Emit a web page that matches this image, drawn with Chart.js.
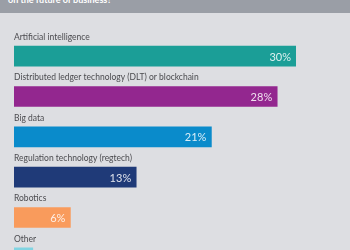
<!DOCTYPE html>
<html>
<head>
<meta charset="utf-8">
<script src="https://cdn.jsdelivr.net/npm/chart.js@4/dist/chart.umd.min.js"></script>
<style>
  body { margin: 0; background: #dddee2; overflow: hidden; width: 350px; height: 250px; position: relative; }
  #header { position: absolute; left: 0; top: 0; width: 350px; height: 13px; background: #9a9ea6; overflow: hidden; }
  #header span { position: absolute; left: 8px; top: -6px; color: #fff; font: bold 9px Lato, sans-serif; white-space: nowrap; }
  #wrap { position: absolute; left: 0; top: 0; width: 350px; height: 290px; }
</style>
</head>
<body>
<div id="wrap"><canvas id="myChart"></canvas></div>
<div id="header"><span>on the future of business?</span></div>
<script>
let categories = ['Artificial intelligence', 'Distributed ledger technology (DLT) or blockchain', 'Big data', 'Regulation technology (regtech)', 'Robotics', 'Other'];
let values = [30, 28, 21, 13, 6, 2]; // percent of respondents
let colors = ['#1b9e97', '#93278f', '#0a8bcb', '#1f3a78', '#f99b5c', '#80d4e2'];

// category names above bars, percentages inside the bar end
const barLabels = {
    id: 'barLabels',
    afterDatasetsDraw(chart) {
        const ctx = chart.ctx;
        const meta = chart.getDatasetMeta(0);
        ctx.save();
        meta.data.forEach((bar, i) => {
            ctx.fillStyle = '#4b4b4f';
            ctx.font = '8.5px Lato, sans-serif';
            ctx.textAlign = 'left';
            ctx.textBaseline = 'middle';
            ctx.fillText(categories[i], bar.base, bar.y - 19);

            ctx.fillStyle = 'rgba(255,255,255,0.85)';
            ctx.font = '11px Lato, sans-serif';
            ctx.textAlign = 'right';
            ctx.fillText(values[i] + '%', bar.x - 5, bar.y + 1);
        });
        ctx.restore();
    }
};

const chart = document.getElementById('myChart').getContext('2d');

const myChart = new Chart(chart, {
    type: 'bar',
    data: {
        labels: categories,
        datasets: [{
            data: values,
            backgroundColor: colors,
            barThickness: 20
        }]
    },
    options: {
        indexAxis: 'y',
        responsive: true,
        maintainAspectRatio: false,
        animation: false,
        layout: {
            padding: { left: 14, right: 54, top: 36, bottom: 12 }
        },
        scales: {
            x: { display: false, min: 0, max: 30 },
            y: { display: false }
        },
        plugins: {
            legend: { display: false },
            tooltip: { enabled: false }
        }
    },
    plugins: [barLabels]
});
</script>
</body>
</html>
